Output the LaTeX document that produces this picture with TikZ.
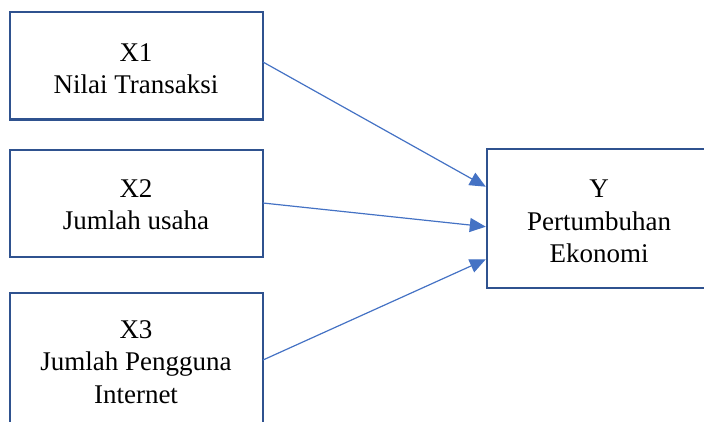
\documentclass[tikz,border=0pt]{standalone}
\usepackage{fontspec}
\setmainfont{Liberation Serif}
\usetikzlibrary{arrows.meta}
\definecolor{boxblue}{HTML}{2F528F}
\definecolor{lineblue}{HTML}{4472C4}
\begin{document}
\begin{tikzpicture}[x=1pt,y=-1pt,
  box/.style={draw=boxblue, line width=2.5pt, fill=white, inner sep=0pt, outer sep=0pt},
  txt/.style={anchor=base, inner sep=0pt, font=\fontsize{27}{32}\selectfont},
  conn/.style={draw=lineblue, line width=1.2pt, -{Triangle[length=16pt,width=14pt]}}]
\useasboundingbox (0,0) rectangle (704,421);
\clip (0,0) rectangle (704,421);
\node[box, minimum width=253pt, minimum height=107.5pt] (x1) at (136.5,65.75) {};
\node[box, minimum width=253pt, minimum height=107pt] (x2) at (136.5,203.5) {};
\node[box, minimum width=253pt, minimum height=147pt] (x3) at (136.5,366.5) {};
\node[box, minimum width=224pt, minimum height=139pt] (y) at (599,218.5) {};
\node[txt] (t1a) at (136,61) {X1};
\node[txt] (t1b) at (136,93.5) {Nilai Transaksi};
\node[txt] (t2a) at (136,197) {X2};
\node[txt] (t2b) at (136,229.5) {Jumlah usaha};
\node[txt] (t3a) at (136,338) {X3};
\node[txt] (t3b) at (136,370.5) {Jumlah Pengguna};
\node[txt] (t3c) at (136,403) {Internet};
\node[txt] (tya) at (599,197.5) {Y};
\node[txt] (tyb) at (599,230) {Pertumbuhan};
\node[txt] (tyc) at (599,262.5) {Ekonomi};
\draw[conn] ([yshift=3.75pt]x1.east) -- ([xshift=-1.2pt,yshift=31.8pt]y.west);
\draw[conn] ([yshift=0.5pt]x2.east) -- ([xshift=-1.2pt,yshift=-8.2pt]y.west);
\draw[conn] ([yshift=6.5pt]x3.east) -- ([xshift=-1.2pt,yshift=-40.8pt]y.west);
\end{tikzpicture}
\end{document}
